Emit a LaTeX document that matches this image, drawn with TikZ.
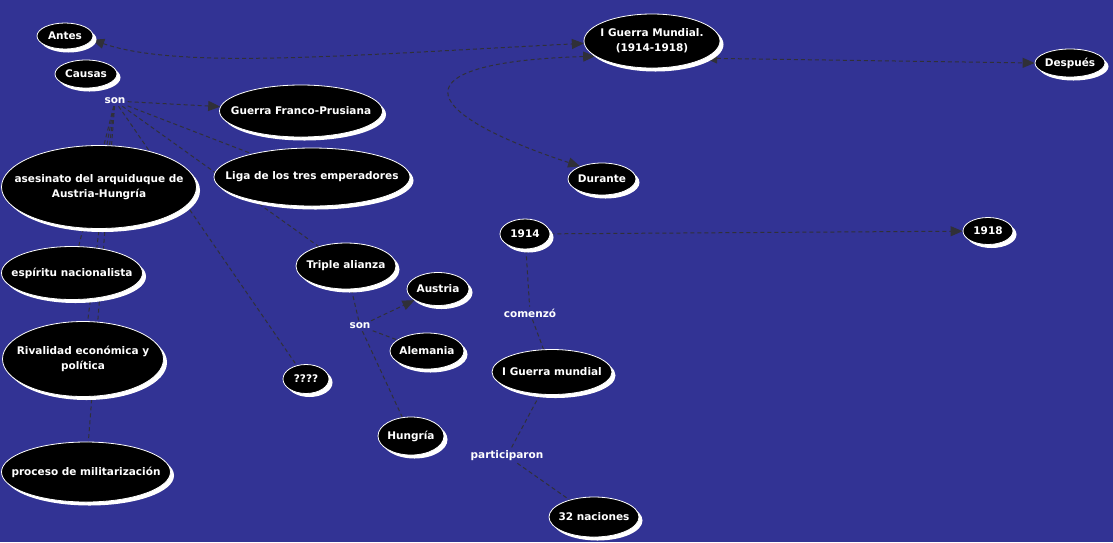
\documentclass[tikz,border=0pt]{standalone}
\usepackage{fontspec}
\setmainfont{DejaVu Sans}
\usetikzlibrary{shapes.geometric,shadows,arrows.meta}

\definecolor{mapblue}{RGB}{50,51,148}
\definecolor{linkgray}{RGB}{48,48,56}

\pgfdeclarelayer{bg}
\pgfdeclarelayer{links}
\pgfsetlayers{bg,links,main}

\begin{document}
\begin{tikzpicture}[x=1pt, y=-1pt,
    font=\bfseries\fontsize{10.5}{15}\selectfont,
    concept/.style={ellipse, fill=black, draw=white, line width=0.8pt, text=white,
      inner sep=-40pt, align=center,
      drop shadow={shadow xshift=3.5pt, shadow yshift=-3.5pt, fill=white, opacity=1}},
    linkword/.style={text=white, inner sep=2pt},
    link/.style={draw=linkgray, line width=1pt, dash pattern=on 4pt off 3pt},
    >={Triangle[length=12pt,width=10pt]}]
			\useasboundingbox (0,0) rectangle (1113,542);
			
			% conceptos
			\node[concept, minimum width=56, minimum height=26] (antes) at (65,36) {Antes};
			\node[concept, minimum width=62, minimum height=28] (causas) at (86,74) {Causas};
			\node[concept, minimum width=163, minimum height=52] (franco) at (301,111) {Guerra Franco-Prusiana};
			\node[concept, minimum width=196, minimum height=58] (liga) at (312,177) {Liga de los tres emperadores};
			\node[concept, minimum width=195, minimum height=83] (asesinato) at (99,187) {asesinato del arquiduque de\\Austria-Hungría};
			\node[concept, minimum width=141, minimum height=53] (espiritu) at (72,273) {espíritu nacionalista};
			\node[concept, minimum width=161, minimum height=75] (rivalidad) at (83,359) {Rivalidad económica y\\política};
			\node[concept, minimum width=169, minimum height=60] (proceso) at (86,472) {proceso de militarización};
			\node[concept, minimum width=46, minimum height=29] (qmarks) at (306,379) {????};
			\node[concept, minimum width=100, minimum height=46] (triple) at (346,266) {Triple alianza};
			\node[concept, minimum width=62, minimum height=33] (austria) at (438,289) {Austria};
			\node[concept, minimum width=74, minimum height=36] (alemania) at (427,351) {Alemania};
			\node[concept, minimum width=66, minimum height=38] (hungria) at (411,436) {Hungría};
			\node[concept, minimum width=136, minimum height=54] (igm) at (652,41) {I Guerra Mundial.\\(1914-1918)};
			\node[concept, minimum width=70, minimum height=28] (despues) at (1070,63) {Después};
			\node[concept, minimum width=68, minimum height=32] (durante) at (602,179) {Durante};
			\node[concept, minimum width=50, minimum height=30] (y1914) at (525,234) {1914};
			\node[concept, minimum width=50, minimum height=27] (y1918) at (988,231) {1918};
			\node[concept, minimum width=120, minimum height=45] (igmundial) at (552,372) {I Guerra mundial};
			\node[concept, minimum width=90, minimum height=40] (naciones) at (594,517) {32 naciones};
			
			% palabras de enlace
			\node[linkword] (son) at (115,101) {son};
			\node[linkword] (sonTriple) at (360,326) {son};
			\node[linkword] (comenzo) at (530,313) {comenzó};
			\node[linkword] (participaron) at (507,456) {participaron};
			
			\begin{pgfonlayer}{bg}
				\fill[mapblue] (0,0) rectangle (1113,542);
			\end{pgfonlayer}
			
			\begin{pgfonlayer}{links}
				\draw[link, <->] (antes.-8) .. controls (180,70) and (350,55) .. (igm.182);
				\draw[link, <->] (igm.195) .. controls (400,62) and (410,110) .. (durante.150);
				\draw[link, <->] (igm.-18) -- (despues.west);
				
				\draw[link, ->] (son) -- (franco);
				\foreach \t in {liga, triple, qmarks, asesinato, espiritu, rivalidad, proceso}
					\draw[link] (son) -- (\t);
				
				\draw[link] (triple) -- (sonTriple);
				\draw[link, ->] (sonTriple) -- (austria);
				\draw[link] (sonTriple) -- (alemania);
				\draw[link] (sonTriple) -- (hungria);
				
				\draw[link, ->] (y1914) -- (y1918);
				\draw[link] (y1914) -- (comenzo) -- (igmundial);
				\draw[link] (igmundial) -- (participaron) -- (naciones);
			\end{pgfonlayer}
		\end{tikzpicture}
\end{document}
